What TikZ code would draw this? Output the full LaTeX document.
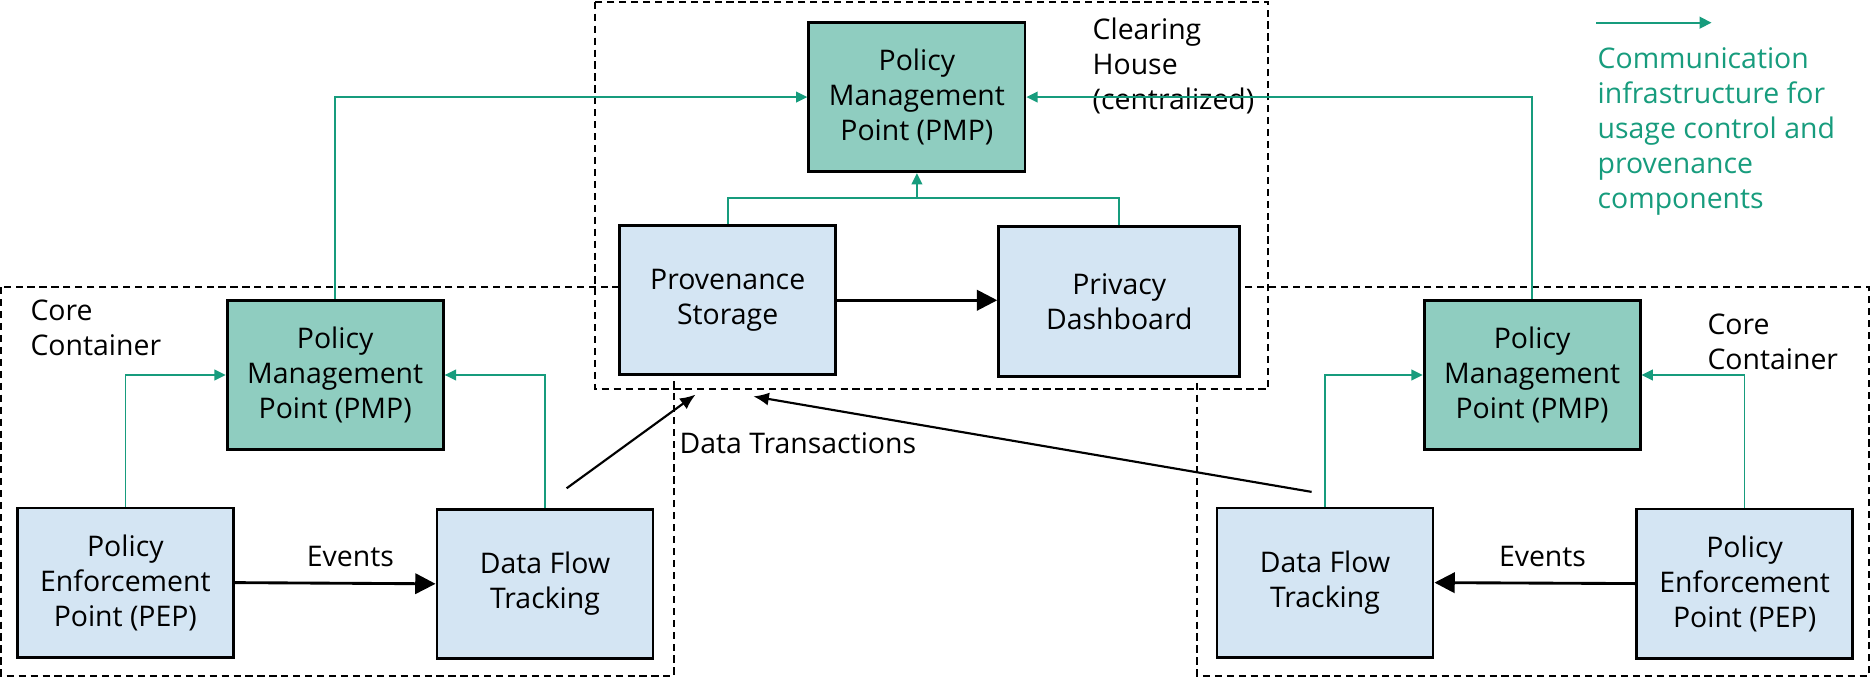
\documentclass[tikz,border=0pt]{standalone}
\usepackage{fontspec}
\setmainfont{Open Sans}
\usetikzlibrary{arrows.meta}
\definecolor{fgreen}{RGB}{23,156,125}
\definecolor{pmpfill}{RGB}{143,205,192}
\definecolor{bluefill}{RGB}{212,229,243}
\tikzset{
  box/.style={draw=black, line width=2.4pt, align=center, inner sep=0pt},
  pmpbox/.style={box, fill=pmpfill, minimum width=181pt, minimum height=125pt},
  bluebox/.style={box, fill=bluefill, minimum width=181pt, minimum height=125pt},
  container/.style={draw=black, line width=1.7pt, dash pattern=on 6pt off 4pt},
  lbl/.style={inner sep=0pt, align=left, anchor=west},
  evarrow/.style={-{Triangle[length=17pt,width=17pt]}, line width=2.4pt},
  grarrow/.style={fgreen, line width=1.4pt, -{Triangle[length=9.5pt,width=9pt]}},
  grline/.style={fgreen, line width=1.4pt},
  dtarrow/.style={-{Latex[length=13pt,width=11pt]}, line width=1.8pt}
}
\begin{document}
\begin{tikzpicture}[x=1pt,y=-1pt, font=\fontsize{23.8}{29.3}\selectfont]
\useasboundingbox (0,0) rectangle (1568,567);

% containers
\draw[container] (498.5,1.5) rectangle (1062,326);
\draw[container] (1,240.6) rectangle (564.6,566);
\draw[container] (1003,240.6) rectangle (1565.6,566);

% nodes
\node[pmpbox] (cpmp) at (768,81.3) {Policy\\Management\\Point (PMP)};
\node[bluebox] (prov) at (609.5,251.5) {Provenance\\Storage};
\node[bluebox, minimum width=202pt] (priv) at (937.5,252.5) {Privacy\\Dashboard};

\node[pmpbox] (lpmp) at (280.75,314.1) {Policy\\Management\\Point (PMP)};
\node[bluebox] (lpep) at (105,488) {Policy\\Enforcement\\Point (PEP)};
\node[bluebox] (ldft) at (456.5,489) {Data Flow\\Tracking};

\node[pmpbox] (rpmp) at (1283.3,314.1) {Policy\\Management\\Point (PMP)};
\node[bluebox] (rdft) at (1109.8,488) {Data Flow\\Tracking};
\node[bluebox] (rpep) at (1461.3,488.8) {Policy\\Enforcement\\Point (PEP)};

% labels
\node[lbl] (chlabel) at (915,55) {Clearing\\House\\(centralized)};
\node[lbl] (lcc) at (25.4,274.5) {Core\\Container};
\node[lbl] (rcc) at (1430,286) {Core\\Container};
\node[lbl] (dtlabel) at (569,371.5) {Data Transactions};
\node[inner sep=0pt] (lev) at (293.5,466) {Events};
\node[inner sep=0pt] (rev) at (1292,466) {Events};
\node[lbl, text=fgreen] (legend) at (1338,110) {Communication\\infrastructure for\\usage control and\\provenance\\components};

% green connectors
\draw[grarrow] (lpmp.north) |- (cpmp.west);
\draw[grarrow] (rpmp.north) |- (cpmp.east);
\coordinate (j) at (768,166);
\draw[grline] (prov.north) |- (j) -| (priv.north);
\draw[grarrow] (j) -- (cpmp.south);
\draw[grarrow] (lpep.north) |- (lpmp.west);
\draw[grarrow] (ldft.north) |- (lpmp.east);
\draw[grarrow] (rdft.north) |- (rpmp.west);
\draw[grarrow] (rpep.north) |- (rpmp.east);

% black connectors
\draw[evarrow] (prov.east) -- (prov.east -| priv.west);
\draw[evarrow] (lpep.east) -- (ldft.west);
\draw[evarrow] (rpep.west) -- (rdft.east);

\coordinate (dtAs) at (474.6,409);
\coordinate (dtAe) at (582.6,330.5);
\coordinate (dtBs) at (1098.6,412);
\coordinate (dtBe) at (631,332);
\draw[dtarrow] (dtAs) -- (dtAe);
\draw[dtarrow] (dtBs) -- (dtBe);

% legend arrow
\coordinate (legs) at (1337,19);
\coordinate (lege) at (1433.5,19);
\draw[grarrow, -{Triangle[length=10pt,width=10pt]}] (legs) -- (lege);
\end{tikzpicture}
\end{document}
